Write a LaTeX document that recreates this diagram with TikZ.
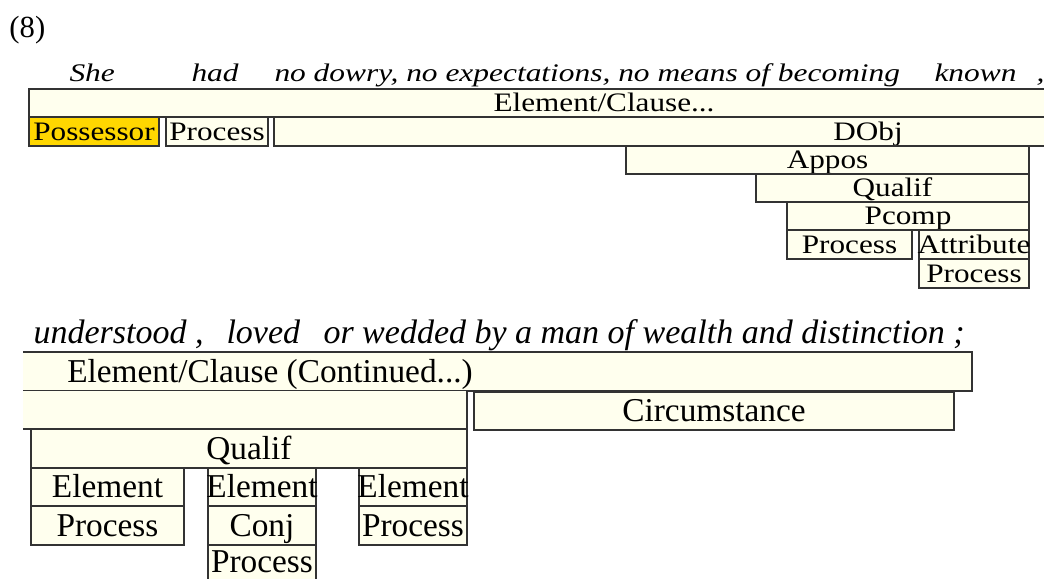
\documentclass[tikz,border=0pt]{standalone}
\usepackage{fontspec}
\setmainfont{Liberation Serif}
\newfontfamily\wideserif[FakeStretch=1.17]{Liberation Serif}
\newfontfamily\wideitalic[FakeStretch=1.24]{Liberation Serif Italic}

\definecolor{boxfill}{RGB}{255,255,238}
\definecolor{possfill}{RGB}{255,215,0}
\definecolor{boxline}{RGB}{51,51,51}

\tikzset{every picture/.style={line width=0.75pt}}
\tikzset{
  cell/.style={draw=boxline, fill=boxfill, line width=1.5pt},
  openedge/.style={draw=boxline, line width=1.5pt},
  toplbl/.style={anchor=base, inner sep=0.75pt, font=\wideserif\fontsize{20}{20}\selectfont},
  topword/.style={anchor=base west, inner sep=0.75pt, font=\wideitalic\fontsize{19}{19}\selectfont},
  lowlbl/.style={anchor=base, inner sep=0.75pt, font=\fontsize{25}{25}\selectfont},
  lowword/.style={anchor=base west, inner sep=0.75pt, font=\itshape\fontsize{25.5}{25.5}\selectfont},
}

\begin{document}
\begin{tikzpicture}[x=0.75pt,y=0.75pt,yscale=-1,xscale=1]
\useasboundingbox (0,0) rectangle (1044,578);
\clip (0,0) rectangle (1044,578);

% Text Node
\node [anchor=base west, inner sep=0.75pt, font=\fontsize{23}{23}\selectfont] (num) at (8,37) {(8)};

% first line of the sentence
\node [topword] (she) at (68,81) {She};
\node [topword] (had) at (190,81) {had};
\node [topword] (nodowry) at (273,81) {no dowry, no expectations, no means of becoming};
\node [topword] (known) at (933,81) {known};
\node [topword] (comma) at (1035,81) {,};

%Shape: Rectangle
\draw [cell] (29,89) rectangle (1070,117);
\node [toplbl] (clause) at (604,111) {Element/Clause...};
%Shape: Rectangle
\draw [cell, fill=possfill] (29,117) rectangle (159,146);
\node [toplbl] (possessor) at (94,140) {Possessor};
%Shape: Rectangle
\draw [cell] (166,117) rectangle (268,146);
\node [toplbl] (process) at (217,140) {Process};
%Shape: Rectangle
\draw [cell] (274,117) rectangle (1070,146);
\node [toplbl] (dobj) at (868,140) {DObj};
%Shape: Rectangle
\draw [cell] (626,146) rectangle (1029,174);
\node [toplbl] (appos) at (827.5,168) {Appos};
%Shape: Rectangle
\draw [cell] (756,174) rectangle (1029,202);
\node [toplbl] (qualif) at (892.5,196) {Qualif};
%Shape: Rectangle
\draw [cell] (787,202) rectangle (1029,230);
\node [toplbl] (pcomp) at (908,224) {Pcomp};
%Shape: Rectangle
\draw [cell] (787,230) rectangle (912,259);
\node [toplbl] (pcproc) at (849.5,253) {Process};
%Shape: Rectangle
\draw [cell] (919,230) rectangle (1029,259);
\node [toplbl] (attrib) at (974,253) {Attribute};
%Shape: Rectangle
\draw [cell] (919,259) rectangle (1029,288);
\node [toplbl] (atproc) at (974,282) {Process};

% second line of the sentence
\node [lowword] (understood) at (32,343) {understood ,};
\node [lowword] (loved) at (225,343) {loved};
\node [lowword] (wedded) at (322,343) {or wedded by a man of wealth and distinction ;};

%Shape: open Rectangle
\fill [boxfill] (23,352) rectangle (972,391);
\draw [openedge] (23,352) -- (972,352) -- (972,391) -- (23,391);
\node [lowlbl] (clausecont) at (270,382) {Element/Clause (Continued...)};
%Shape: open Rectangle
\fill [boxfill] (23,391) rectangle (467,429);
\draw [openedge] (23,429) -- (467,429) -- (467,391);
%Shape: Rectangle
\draw [cell] (474,392) rectangle (954,430);
\node [lowlbl] (circ) at (714,421) {Circumstance};
%Shape: Rectangle
\draw [cell] (31,429) rectangle (467,468);
\node [lowlbl] (qualiflow) at (249,459) {Qualif};

%Shape: Rectangle
\draw [cell] (31,468) rectangle (184,506);
\node [lowlbl] (elema) at (107.5,497) {Element};
\draw [cell] (31,506) rectangle (184,545);
\node [lowlbl] (proca) at (107.5,536) {Process};

%Shape: Rectangle
\draw [cell] (208,468) rectangle (316,506);
\node [lowlbl] (elemb) at (262,497) {Element};
\draw [cell] (208,506) rectangle (316,545);
\node [lowlbl] (conj) at (262,536) {Conj};
\draw [cell] (208,545) rectangle (316,595);
\node [lowlbl] (procb) at (262,572) {Process};

%Shape: Rectangle
\draw [cell] (359,468) rectangle (467,506);
\node [lowlbl] (elemc) at (413,497) {Element};
\draw [cell] (359,506) rectangle (467,545);
\node [lowlbl] (procc) at (413,536) {Process};

\end{tikzpicture}
\end{document}
